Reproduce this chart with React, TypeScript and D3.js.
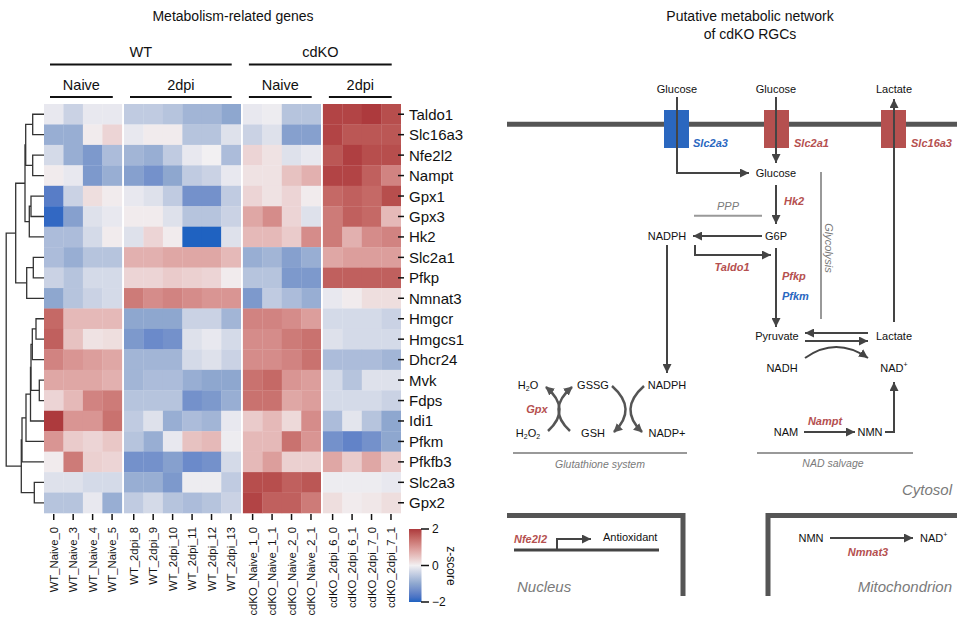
import React from "react";
import * as d3 from "d3";

const genes = ["Taldo1","Slc16a3","Nfe2l2","Nampt","Gpx1","Gpx3","Hk2","Slc2a1","Pfkp","Nmnat3","Hmgcr","Hmgcs1","Dhcr24","Mvk","Fdps","Idi1","Pfkm","Pfkfb3","Slc2a3","Gpx2"];
const samples = ["WT_Naive_0","WT_Naive_3","WT_Naive_4","WT_Naive_5","WT_2dpi_8","WT_2dpi_9","WT_2dpi_10","WT_2dpi_11","WT_2dpi_12","WT_2dpi_13","cdKO_Naive_1_0","cdKO_Naive_1_1","cdKO_Naive_2_0","cdKO_Naive_2_1","cdKO_2dpi_6_0","cdKO_2dpi_6_1","cdKO_2dpi_7_0","cdKO_2dpi_7_1"];
const sampleGroup = [0,0,0,0,1,1,1,1,1,1,2,2,2,2,3,3,3,3];
const subgroupLabels = ["Naive","2dpi","Naive","2dpi"];
const conditionLabels = ["WT","cdKO"];
const zscores = [
  [-0.1,-0.4,-0.1,-0.1, -0.5,-0.5,-0.6,-0.8,-0.8,-1.0, -0.1,-0.05,-0.6,-0.6, 1.9,1.9,2.0,1.8],
  [-0.9,-0.9,0.05,0.3, -0.1,0.05,0.05,-0.6,-0.6,-0.2, -0.4,-0.2,-1.1,-1.1, 1.9,1.7,1.7,1.7],
  [-0.3,-0.9,-1.2,-0.7, -0.8,-0.9,-0.5,-0.1,0.0,-0.7, 0.3,0.15,-0.2,-0.1, 1.7,1.95,1.8,1.8],
  [0.05,-0.1,-1.2,-0.9, -1.1,-1.3,-1.0,-0.5,-0.4,-0.1, 0.15,0.15,0.5,0.7, 1.9,1.9,1.6,1.2],
  [-1.6,-0.4,0.2,0.05, -0.1,-0.2,-0.5,-1.3,-1.3,-0.5, 0.3,0.15,0.3,0.05, 1.5,1.6,1.5,1.8],
  [-1.9,-1.1,-0.2,-0.1, 0.05,0.05,-0.2,-0.6,-0.6,-0.4, 0.8,1.1,0.3,-0.2, 1.3,1.6,1.5,0.6],
  [-0.7,-0.7,-0.3,0.05, -0.2,0.3,0.05,-2.0,-2.0,-0.2, 0.6,0.6,0.4,1.1, 1.3,0.7,1.1,1.2],
  [-0.7,-0.9,-0.6,-0.6, 0.7,0.7,0.8,0.8,0.8,0.6, -0.9,-0.8,-1.1,-0.9, 0.8,0.9,0.9,0.9],
  [-0.4,-0.6,-0.3,-0.3, 0.3,0.3,0.4,0.35,0.3,0.05, -0.6,-0.6,-1.2,-1.2, 1.6,1.6,1.6,1.6],
  [-1.0,-0.6,-0.4,-0.3, 1.3,1.1,1.2,1.1,1.0,1.0, -1.2,-0.5,-0.7,-0.9, -0.1,0.05,0.2,0.2],
  [1.5,0.6,0.6,0.6, -1.0,-1.0,-1.0,-0.4,-0.4,-0.8, 1.2,1.2,1.1,0.9, -0.3,-0.3,-0.3,-0.4],
  [1.6,0.5,0.15,0.2, -1.2,-1.4,-1.3,-0.2,-0.1,-0.3, 1.1,1.1,1.3,1.4, -0.2,-0.3,-0.3,-0.3],
  [1.2,1.0,0.9,0.8, -0.8,-0.8,-0.8,-0.3,-0.2,-0.4, 1.1,1.1,1.2,1.4, -0.7,-0.7,-0.7,-0.8],
  [0.8,0.8,0.8,0.7, -0.8,-0.7,-0.7,-0.9,-1.0,-1.0, 1.4,1.5,1.0,0.9, -0.3,-0.6,-0.2,-0.2],
  [0.3,0.6,1.2,1.3, -0.6,-0.6,-0.6,-1.3,-1.2,-0.9, 1.4,1.4,0.8,0.9, -0.3,-0.3,-0.3,-0.4],
  [2.0,1.0,1.0,1.4, -0.5,-0.2,-0.9,-0.7,-0.8,-0.1, 0.4,0.6,0.25,1.1, -0.7,-0.15,-0.6,-1.0],
  [1.0,0.4,0.3,0.45, -0.6,-0.9,-0.1,0.5,0.6,-0.05, 0.6,0.6,1.4,1.0, -1.3,-1.5,-1.3,-1.0],
  [0.05,1.3,0.35,0.3, -1.3,-1.3,-1.1,-1.4,-1.3,-0.3, 0.6,0.9,0.35,0.35, 0.8,0.4,0.8,0.4],
  [-0.2,-0.2,-0.3,-0.3, -0.9,-0.9,-1.2,-0.05,-0.05,-0.5, 1.8,1.8,1.6,1.7, -0.05,-0.05,-0.05,-0.1],
  [-0.6,-0.6,-0.1,-0.9, -0.5,-0.3,-0.6,-0.7,-0.6,-0.4, 1.9,1.6,1.6,1.3, 0.2,0.05,0.1,0.2],
];
// row dendrogram linkage: [childA, childB, height]; leaves 0..19, merges numbered from 20
const linkage: [number, number, number][] = [
  [0,1,11.3],[2,3,11.3],[20,21,18.3],[4,5,13],[23,6,14.7],[22,24,19],[7,8,10.7],[26,9,17.3],[25,27,28.3],
  [10,11,8],[29,12,11.7],[13,14,4.7],[30,31,13],[32,15,13.5],[33,16,18],[34,17,22],[18,19,9.7],[35,36,22.7],[28,37,37.8],
];
const colorTicks = [2, 0, -2];

const FONT = "'Liberation Sans', Arial, Helvetica, sans-serif";
const RED = "#b5504f";
const BLUE = "#2a67bf";
const GRAY = "#7a7a7a";
const DARK = "#444";

export default function App() {
  const cellW = 19.45, gap = 2.2, x0 = 44;
  const colX = (j: number) => x0 + j * cellW + sampleGroup[j] * gap;
  const y = d3.scaleBand<string>().domain(genes).range([104, 513]);
  const color = d3.scaleLinear<string>().domain([-2, -1, 0, 1, 2])
    .range(["#1f62c1", "#8ea7cf", "#f2f0f2", "#d99593", "#ad3a3d"])
    .interpolate(d3.interpolateLab).clamp(true);
  const dx = d3.scaleLinear().domain([0, 38]).range([44, 6]);

  // dendrogram nodes
  const nodeY: number[] = genes.map((g) => (y(g) as number) + y.bandwidth() / 2);
  const nodeH: number[] = genes.map(() => 0);
  const dendro: string[] = [];
  linkage.forEach(([a, b, h]) => {
    const ya = nodeY[a], yb = nodeY[b];
    dendro.push(`M${dx(nodeH[a])},${ya}H${dx(h)}V${yb}H${dx(nodeH[b])}`);
    nodeY.push((ya + yb) / 2);
    nodeH.push(h);
  });

  const groupExtent = (g: number) => {
    const idx = sampleGroup.map((s, i) => (s === g ? i : -1)).filter((i) => i >= 0);
    return [colX(idx[0]), colX(idx[idx.length - 1]) + cellW];
  };
  const subLines = [0, 1, 2, 3].map((g) => {
    const [a, b] = groupExtent(g);
    return { a: a + 6, b: b - 9, label: subgroupLabels[g] };
  });
  const condLines = [0, 1].map((c) => ({ a: subLines[c * 2].a, b: subLines[c * 2 + 1].b, label: conditionLabels[c] }));

  const cb = d3.scaleLinear().domain([2, -2]).range([529, 602]);
  const cbStops = d3.range(-2, 2.01, 0.25);

  const t = (x: number, yy: number, s: string, o: any = {}) => (
    <text x={x} y={yy} textAnchor={o.anchor || "middle"} dominantBaseline="central"
      fontSize={o.size || 11} fill={o.fill || "#111"} fontStyle={o.italic ? "italic" : "normal"}
      fontWeight={o.bold ? "bold" : "normal"}>{s}</text>
  );

  return (
    <svg width={957} height={619} style={{ position: "absolute", left: 0, top: 0, background: "#fff" }} fontFamily={FONT}>
      <defs>
        <marker id="arr" viewBox="0 0 10 10" refX="10" refY="5" markerWidth="9" markerHeight="9" markerUnits="userSpaceOnUse" orient="auto">
          <path d="M0,0L10,5L0,10z" fill={DARK} />
        </marker>
        <marker id="arrg" viewBox="0 0 10 10" refX="9" refY="5" markerWidth="9" markerHeight="9" markerUnits="userSpaceOnUse" orient="auto">
          <path d="M0,0L10,5L0,10z" fill="#555" />
        </marker>
        <linearGradient id="cbg" x1="0" y1="1" x2="0" y2="0">
          {cbStops.map((v) => (
            <stop key={v} offset={`${((v + 2) / 4) * 100}%`} stopColor={color(v)} />
          ))}
        </linearGradient>
      </defs>

      {/* Left title and group headers */}
      <text x={233} y={21} textAnchor="middle" fontSize={14} fill="#111">Metabolism-related genes</text>
      {condLines.map((c) => (
        <g key={c.label}>
          <text x={(c.a + c.b) / 2} y={57} textAnchor="middle" fontSize={14.5} fill="#111">{c.label}</text>
          <line x1={c.a} x2={c.b} y1={64.5} y2={64.5} stroke="#111" strokeWidth={2} />
        </g>
      ))}
      {subLines.map((c, i) => (
        <g key={i}>
          <text x={(c.a + c.b) / 2} y={90} textAnchor="middle" fontSize={14.5} fill="#111">{c.label}</text>
          <line x1={c.a} x2={c.b} y1={97} y2={97} stroke="#111" strokeWidth={2} />
        </g>
      ))}

      {/* heatmap */}
      {zscores.map((row, i) =>
        row.map((v, j) => (
          <rect key={`${i}-${j}`} x={colX(j)} y={y(genes[i]) as number} width={cellW + 0.3}
            height={y.bandwidth() + 0.3} fill={color(v)} />
        ))
      )}
      {/* dendrogram */}
      {dendro.map((d, i) => <path key={i} d={d} fill="none" stroke="#333" strokeWidth={1.3} />)}

      {/* row labels */}
      {genes.map((g) => {
        const cy = (y(g) as number) + y.bandwidth() / 2;
        return (
          <g key={g}>
            <line x1={398} x2={404} y1={cy} y2={cy} stroke="#111" strokeWidth={1.5} />
            <text x={409} y={cy} dominantBaseline="central" fontSize={15} fill="#111">{g}</text>
          </g>
        );
      })}
      {/* column labels */}
      {samples.map((s, j) => {
        const cx = colX(j) + cellW / 2;
        return (
          <g key={s}>
            <line x1={cx} x2={cx} y1={514} y2={520} stroke="#111" strokeWidth={1.5} />
            <text transform={`translate(${cx},527) rotate(-90)`} textAnchor="end" dominantBaseline="central" fontSize={11.3} fill="#111">{s}</text>
          </g>
        );
      })}
      {/* colorbar */}
      <rect x={409} y={529} width={12.5} height={73} fill="url(#cbg)" />
      {colorTicks.map((v) => (
        <g key={v}>
          <line x1={421} x2={429} y1={cb(v)} y2={cb(v)} stroke="#111" strokeWidth={1.5} />
          <text x={432} y={cb(v)} dominantBaseline="central" fontSize={12} fill="#111">{v < 0 ? `\u2212${-v}` : `${v}`}</text>
        </g>
      ))}
      <text transform="translate(451,566) rotate(90)" textAnchor="middle" dominantBaseline="central" fontSize={12} fill="#111">z-score</text>

      {/* Right panel */}
      <text x={750} y={21} textAnchor="middle" fontSize={14} fill="#111">Putative metabolic network</text>
      <text x={750} y={39} textAnchor="middle" fontSize={14} fill="#111">of cdKO RGCs</text>

      <line x1={507} x2={957} y1={124.3} y2={124.3} stroke="#555" strokeWidth={5} />
      <rect x={664} y={110} width={25} height={38} fill={BLUE} />
      <rect x={764} y={110} width={25} height={38} fill={RED} />
      <rect x={881} y={110} width={25} height={38} fill={RED} />
      {t(693, 143, "Slc2a3", { anchor: "start", italic: true, bold: true, fill: BLUE })}
      {t(794, 143, "Slc2a1", { anchor: "start", italic: true, bold: true, fill: RED })}
      {t(911, 143, "Slc16a3", { anchor: "start", italic: true, bold: true, fill: RED })}
      {t(677, 89, "Glucose")}
      {t(776, 89, "Glucose")}
      {t(894, 89, "Lactate")}
      {t(776, 173, "Glucose")}
      {t(784, 201, "Hk2", { anchor: "start", italic: true, bold: true, fill: RED })}
      {t(728, 205.5, "PPP", { italic: true, fill: GRAY })}
      {t(776, 236, "G6P")}
      {t(667, 236, "NADPH")}
      {t(732, 267, "Taldo1", { italic: true, bold: true, fill: RED })}
      {t(782, 276, "Pfkp", { anchor: "start", italic: true, bold: true, fill: RED })}
      {t(782, 296, "Pfkm", { anchor: "start", italic: true, bold: true, fill: BLUE })}
      <text transform="translate(829,248) rotate(90)" textAnchor="middle" dominantBaseline="central" fontSize={11} fontStyle="italic" fill={GRAY}>Glycolysis</text>
      {t(777, 336, "Pyruvate")}
      {t(894, 336, "Lactate")}
      {t(782, 368, "NADH")}
      <text x={894} y={368} textAnchor="middle" dominantBaseline="central" fontSize={11} fill="#111">NAD<tspan fontSize={7} dy={-4}>+</tspan></text>

      {/* glutathione */}
      <text x={528} y={385} textAnchor="middle" dominantBaseline="central" fontSize={11} fill="#111">H<tspan fontSize={7} dy={3}>2</tspan><tspan dy={-3}>O</tspan></text>
      <text x={528} y={433} textAnchor="middle" dominantBaseline="central" fontSize={11} fill="#111">H<tspan fontSize={7} dy={3}>2</tspan><tspan dy={-3}>O</tspan><tspan fontSize={7} dy={3}>2</tspan></text>
      {t(593, 385, "GSSG")}
      {t(593, 433, "GSH")}
      {t(667, 385, "NADPH")}
      {t(667, 433, "NADP+")}
      {t(537, 409, "Gpx", { italic: true, bold: true, fill: RED })}
      <path d="M548,431Q572,409 546,387" fill="none" stroke="#555" strokeWidth={2.5} markerEnd="url(#arrg)" />
      <path d="M570,431Q546,409 572,387" fill="none" stroke="#555" strokeWidth={2.5} markerEnd="url(#arrg)" />
      <path d="M612,386Q638,409 614,432" fill="none" stroke="#555" strokeWidth={2.5} markerEnd="url(#arrg)" />
      <path d="M644,386Q618,409 642,432" fill="none" stroke="#555" strokeWidth={2.5} markerEnd="url(#arrg)" />
      <line x1={513} x2={687} y1={453} y2={453} stroke="#999" strokeWidth={2} />
      {t(600, 464, "Glutathione system", { italic: true, fill: GRAY, size: 10.5 })}

      {/* NAD salvage */}
      {t(786, 432, "NAM")}
      {t(870, 432, "NMN")}
      {t(825, 421, "Nampt", { italic: true, bold: true, fill: RED })}
      <line x1={757} x2={913} y1={453} y2={453} stroke="#999" strokeWidth={2} />
      {t(833, 463, "NAD salvage", { italic: true, fill: GRAY, size: 10.5 })}
      {t(952, 489, "Cytosol", { anchor: "end", italic: true, fill: GRAY, size: 15 })}

      {/* arrows */}
      {[
        "M677,97V173H749",
        "M776,97V163",
        "M894,322V99",
        "M776,185V224",
        "M762,236H693",
        "M695,245V255H771",
        "M776,248V327",
        "M868,333H805",
        "M805,341H868",
        "M805,358Q836,336 868,358",
        "M667,245V373",
        "M804,432H855",
        "M885,432H894V382",
        "M557,550V539H591",
        "M830,538H913",
      ].map((d, i) => (
        <path key={i} d={d} fill="none" stroke={DARK} strokeWidth={2} markerEnd="url(#arr)" />
      ))}
      <line x1={694} x2={762} y1={215.7} y2={215.7} stroke="#999" strokeWidth={2} />
      <line x1={821} x2={821} y1={172} y2={319} stroke="#999" strokeWidth={2} />
      <line x1={557} x2={557} y1={538} y2={550} stroke={DARK} strokeWidth={2} />

      {/* nucleus */}
      <path d="M507,515.5H683V596" fill="none" stroke="#555" strokeWidth={5} />
      <line x1={514} x2={659} y1={550} y2={550} stroke={DARK} strokeWidth={3} />
      {t(514, 539, "Nfe2l2", { anchor: "start", italic: true, bold: true, fill: RED })}
      {t(603, 537, "Antioxidant", { anchor: "start" })}
      {t(517, 586, "Nucleus", { anchor: "start", italic: true, fill: GRAY, size: 15 })}

      {/* mitochondrion */}
      <path d="M957,515.5H768V596" fill="none" stroke="#555" strokeWidth={5} />
      {t(811, 538, "NMN")}
      <text x={920} y={538} dominantBaseline="central" fontSize={11} fill="#111">NAD<tspan fontSize={7} dy={-4}>+</tspan></text>
      {t(868, 552, "Nmnat3", { italic: true, bold: true, fill: RED })}
      {t(952, 586, "Mitochondrion", { anchor: "end", italic: true, fill: GRAY, size: 15 })}
    </svg>
  );
}
